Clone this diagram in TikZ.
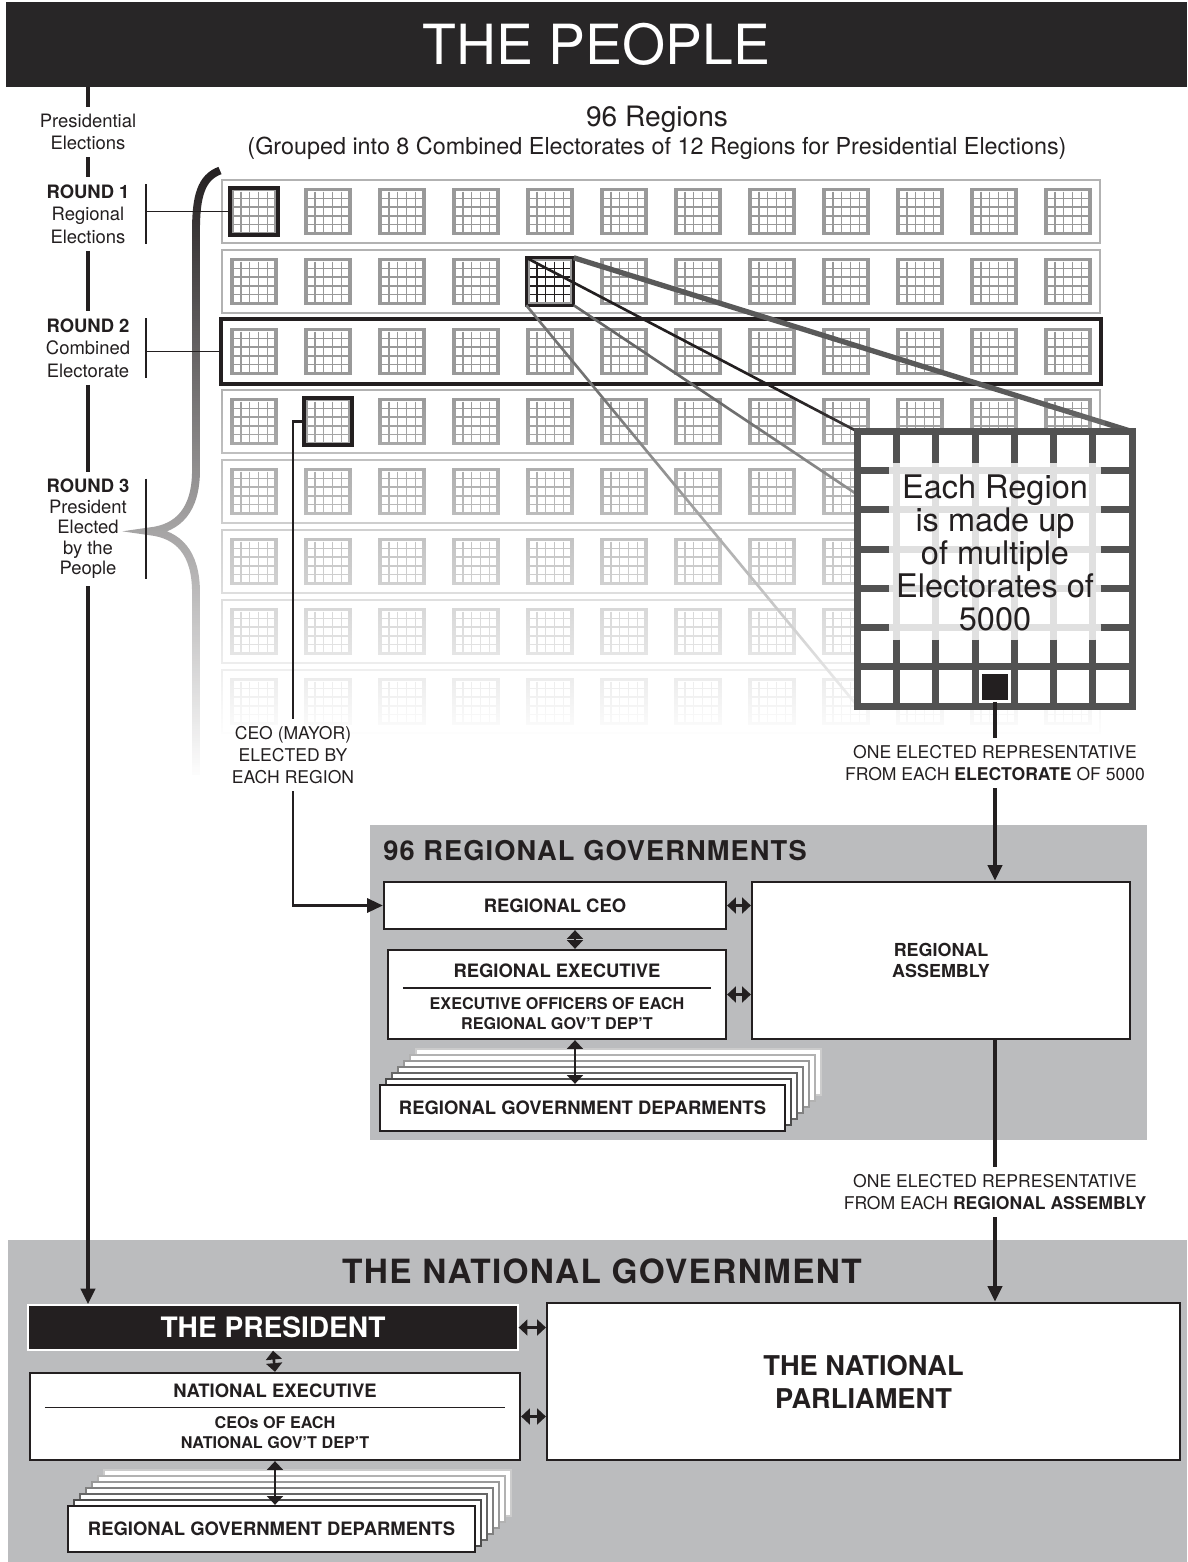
\documentclass[tikz,border=0pt]{standalone}
\usepackage{fontspec}
\setmainfont{TeX Gyre Heros}
\newfontfamily\widefont[LetterSpace=4]{TeX Gyre Heros}
\usetikzlibrary{arrows.meta,calc,fadings,positioning}

\definecolor{ink}{HTML}{231F20}
\definecolor{barblack}{HTML}{282627}
\definecolor{panelgray}{HTML}{BBBCBE}

\tikzfading[name=bracefade, top color=transparent!0, bottom color=transparent!100]
\tikzfading[name=gridfade, top color=transparent!100, bottom color=transparent!0]

\tikzset{
  lbl/.style={align=center, inner sep=4pt, text=ink, font=\fontsize{10.5}{12.8}\selectfont},
  caption/.style={align=center, inner sep=4pt, text=ink, font=\fontsize{10}{12.6}\selectfont},
  timeline/.style={ink, line width=2.3pt},
  bar/.style={ink, line width=1.1pt, shorten <=4pt, shorten >=4pt},
  rowbox/.style={draw=black!30, line width=1.1pt, fill=white, minimum width=17.56cm, minimum height=1.26cm, inner sep=0pt},
  regbox/.style={draw=black!40, line width=2pt, minimum size=0.88cm, inner sep=0pt},
  hilite/.style={draw=ink, line width=2.4pt},
  panel/.style={fill=panelgray, inner sep=0pt},
  paneltitle/.style={text=ink, inner sep=0pt, font=\widefont\bfseries\fontsize{15.5}{18}\selectfont},
  govbox/.style={draw=ink, line width=1.3pt, fill=white, align=center, text=ink, inner sep=0pt, font=\bfseries\fontsize{10.5}{12.5}\selectfont},
  boxsub/.style={align=center, text=ink, inner sep=0pt, font=\bfseries\fontsize{9.2}{11.4}\selectfont},
  deptcard/.style={govbox, minimum height=0.92cm},
  link/.style={ink, line width=2.2pt, -{Triangle[length=9pt, width=8pt]}},
  twoway/.style={ink, line width=1.5pt, {Triangle[length=5pt, width=9pt]}-{Triangle[length=5pt, width=9pt]}},
  cells/.pic={
    \foreach \k in {-13.2,-4.4,4.4,13.2} {
      \draw[line width=0.8pt] (\k,-20) -- (\k,20);
      \draw[line width=0.8pt] (-20,\k) -- (20,\k);
    }
  }
}

\begin{document}
\begin{tikzpicture}[x=0.02cm, y=-0.02cm]
	\useasboundingbox (0,0) rectangle (1187,1562);

	% The people
	\node[fill=barblack, minimum width=23.62cm, minimum height=1.7cm, text=white, font=\fontsize{31.5}{36}\selectfont] (people) at (596.5,44.5) {THE PEOPLE};

	% Presidential election rounds
	\node[lbl] (presel) at (88,132) {Presidential\\Elections};
	\node[lbl] (round1) at (88,214) {\textbf{ROUND 1}\\Regional\\Elections};
	\node[lbl] (round2) at (88,348) {\textbf{ROUND 2}\\Combined\\Electorate};
	\node[lbl, font=\fontsize{10.5}{11.7}\selectfont] (round3) at (88,529) {\textbf{ROUND 3}\\President\\Elected\\by the\\People};
	\coordinate (barline) at (146,0);

	% The regions
	\node[text=ink, font=\fontsize{16}{19}\selectfont] (regtitle) at (657,119) {96 Regions};
	\node[text=ink, font=\fontsize{13.3}{16}\selectfont] (regsub) at (657,148) {(Grouped into 8 Combined Electorates of 12 Regions for Presidential Elections)};

	\foreach \r in {1,...,8} {
		\pgfmathsetmacro{\ry}{211.5+70*(\r-1)}
		\node[rowbox] (row-\r) at (661,\ry) {};
		\foreach \c in {1,...,12} {
			\pgfmathsetmacro{\cx}{254+74*(\c-1)}
			\node[regbox] (sq-\r-\c) at (\cx,\ry) {};
			\pic[color=black!40] at (sq-\r-\c) {cells};
		}
	}

	\draw[hilite] (row-3.north west) rectangle (row-3.south east);
	\draw[hilite] (sq-1-1.north west) rectangle (sq-1-1.south east);
	\draw[ink, line width=1.6pt] (sq-2-5.north west) rectangle (sq-2-5.south east);
	\pic[color=ink] at (sq-2-5) {cells};

	% One region magnified
	\node[minimum size=5.48cm, inner sep=0pt] (bigreg) at (995,569) {};
	\draw[black!55, line width=1.5pt] (sq-2-5.south west) -- (bigreg.south west);
	\draw[black!60, line width=1.5pt] (sq-2-5.south east) -- ($(bigreg.north west)!0.23!(bigreg.south west)$);
	\draw[ink, line width=1.5pt] (sq-2-5.north west) -- (bigreg.north west);
	\draw[black!65, line width=3pt] (sq-2-5.north east) -- (bigreg.north east);

	\fill[white, path fading=gridfade] (216,392) rectangle (1106,740);

	\draw[ink, line width=4.5pt, path fading=bracefade] (220,170) .. controls (201,177) and (196,196) .. (196,230) -- (196,470) .. controls (196,510) and (178,528) .. (150,531) .. controls (178,534) and (196,552) .. (196,592) -- (196,775);

	\fill[white] (bigreg.north west) rectangle (bigreg.south east);
	\begin{scope}[shift={(bigreg.north west)}]
		\foreach \i in {1,...,6} {
			\draw[black!12, line width=4pt] (39.14*\i,0) -- (39.14*\i,274);
			\draw[black!12, line width=4pt] (0,39.14*\i) -- (274,39.14*\i);
		}
		\foreach \i in {1,...,6} {
			\draw[black!68, line width=4pt] (39.14*\i,0) -- (39.14*\i,31);
			\draw[black!68, line width=4pt] (39.14*\i,208) -- (39.14*\i,274);
		}
		\foreach \i in {1,...,5} {
			\draw[black!68, line width=4pt] (0,39.14*\i) -- (31,39.14*\i);
			\draw[black!68, line width=4pt] (243,39.14*\i) -- (274,39.14*\i);
		}
		\draw[black!68, line width=4pt] (0,234.8) -- (274,234.8);
	\end{scope}
	\draw[black!68, line width=4pt] (bigreg.north west) rectangle (bigreg.south east);
	\node[text=ink, align=center, font=\fontsize{18.5}{18.8}\selectfont] (bigtxt) at (995,553) {Each Region\\is made up\\of multiple\\Electorates of\\5000};
	\node[fill=ink, draw=white, line width=1pt, minimum size=0.56cm, inner sep=0pt] (elecrep) at (995,687) {};

	% Mayor
	\draw[hilite] (sq-4-2.north west) rectangle (sq-4-2.south east);
	\node[caption] (ceolbl) at (293,755) {CEO (MAYOR)\\ELECTED BY\\EACH REGION};
	\draw[ink, line width=1.7pt] (sq-4-2.west) -| (ceolbl.north);

	\node[caption] (onerep1) at (995,763) {ONE ELECTED REPRESENTATIVE\\FROM EACH \textbf{ELECTORATE} OF 5000};
	\draw[timeline] (elecrep.south) -- (onerep1.north);

	% Regional governments
	\node[panel, minimum width=15.54cm, minimum height=6.3cm] (regpanel) at (758.5,982.5) {};
	\node[paneltitle, anchor=west] (regpaneltitle) at (383,851) {96 REGIONAL GOVERNMENTS};

	\node[govbox, minimum width=6.84cm, minimum height=0.94cm] (regceo) at (555,905.5) {REGIONAL CEO};
	\node[govbox, minimum width=6.76cm, minimum height=1.78cm] (regexec) at (557,994.5) {};
	\node[govbox, draw=none] (regexec-title) at (557,971) {REGIONAL EXECUTIVE};
	\draw[ink, line width=0.8pt] ($(regexec.north west)!0.427!(regexec.south west)+(16,0)$) -- ($(regexec.north east)!0.427!(regexec.south east)+(-16,0)$);
	\node[boxsub] (regexec-sub) at (557,1014) {EXECUTIVE OFFICERS OF EACH\\REGIONAL GOV'T DEP'T};

	\foreach \k in {6,...,1} {
		\pgfmathsetmacro{\dk}{80-10*\k}
		\node[deptcard, minimum width=8.1cm, draw=black!\dk] (regdept-\k) at ($(582.5,1108)+(6*\k,-6*\k)$) {};
	}
	\node[deptcard, minimum width=8.1cm] (regdept) at (582.5,1108) {REGIONAL GOVERNMENT DEPARMENTS};

	\node[govbox, minimum width=7.56cm, minimum height=3.14cm, font=\bfseries\fontsize{10.2}{12.3}\selectfont] (regasm) at (941,960.5) {REGIONAL\\ASSEMBLY};

	\coordinate (regaxis) at (575,0);
	\draw[twoway] (regceo.south -| regaxis) -- (regexec.north -| regaxis);
	\draw[twoway] (regexec.south -| regaxis) -- (regdept.north -| regaxis);
	\draw[twoway] (regceo.east) -- (regceo.east -| regasm.west);
	\draw[twoway] (regexec.east) -- (regexec.east -| regasm.west);
	\draw[link, line width=1.7pt] (ceolbl.south) |- (regceo.west);
	\draw[link] (onerep1.south) -- (regasm.north -| onerep1);

	\node[caption] (onerep2) at (995,1192) {ONE ELECTED REPRESENTATIVE\\FROM EACH \textbf{REGIONAL ASSEMBLY}};
	\draw[timeline] (regasm.south -| onerep2) -- (onerep2.north);

	% National government
	\node[panel, minimum width=23.58cm, minimum height=6.44cm] (natpanel) at (597.5,1401) {};
	\node[paneltitle, font=\widefont\bfseries\fontsize{19}{22}\selectfont] (natpaneltitle) at (602,1271) {THE NATIONAL GOVERNMENT};

	\node[govbox, fill=ink, draw=white, line width=0.8pt, text=white, font=\bfseries\fontsize{16}{19}\selectfont, minimum width=9.8cm, minimum height=0.9cm] (president) at (273,1327.5) {THE PRESIDENT};
	\node[govbox, minimum width=9.8cm, minimum height=1.74cm] (natexec) at (275,1416.5) {};
	\node[govbox, draw=none] (natexec-title) at (275,1391) {NATIONAL EXECUTIVE};
	\draw[ink, line width=0.8pt] ($(natexec.north west)!0.4!(natexec.south west)+(16,0)$) -- ($(natexec.north east)!0.4!(natexec.south east)+(-16,0)$);
	\node[boxsub] (natexec-sub) at (275,1433) {CEOs OF EACH\\NATIONAL GOV'T DEP'T};

	\foreach \k in {6,...,1} {
		\pgfmathsetmacro{\dk}{80-10*\k}
		\node[deptcard, minimum width=8.14cm, draw=black!\dk] (natdept-\k) at ($(271.5,1529)+(6*\k,-6*\k)$) {};
	}
	\node[deptcard, minimum width=8.14cm] (natdept) at (271.5,1529) {REGIONAL GOVERNMENT DEPARMENTS};

	\node[govbox, font=\bfseries\fontsize{15.5}{18.8}\selectfont, minimum width=12.66cm, minimum height=3.14cm] (parl) at (863.5,1381.5) {THE NATIONAL\\PARLIAMENT};

	\draw[twoway] (president.south) -- (natexec.north);
	\draw[twoway] (natexec.south) -- (natdept.north -| natexec.south);
	\draw[twoway] (president.east) -- (president.east -| parl.west);
	\draw[twoway] (natexec.east) -- (natexec.east -| parl.west);
	\draw[link] (onerep2.south) -- (parl.north -| onerep2);

	% Election line
	\draw[timeline] (people.south -| presel) -- (presel.north);
	\draw[timeline] (presel.south) -- (round1.north);
	\draw[timeline] (round1.south) -- (round2.north);
	\draw[timeline] (round2.south) -- (round3.north);
	\draw[link] (round3.south) -- (president.north -| round3);
	\draw[bar] (round1.north -| barline) -- (round1.south -| barline);
	\draw[bar] (round2.north -| barline) -- (round2.south -| barline);
	\draw[bar] (round3.north -| barline) -- (round3.south -| barline);
	\draw[ink, line width=1.1pt] (sq-1-1.west -| barline) -- (sq-1-1.west);
	\draw[ink, line width=1.1pt] (row-3.west -| barline) -- (row-3.west);
\end{tikzpicture}
\end{document}
